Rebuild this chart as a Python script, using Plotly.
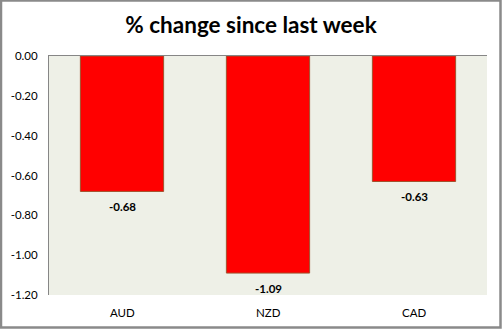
import plotly.graph_objects as go

currencies = ["AUD", "NZD", "CAD"]
weekly_change = [-0.68, -1.09, -0.63]
y_ticks = [0.0, -0.2, -0.4, -0.6, -0.8, -1.0, -1.2]
y_tick_labels = ["0.00", "-0.20", "-0.40", "-0.60", "-0.80", "-1.00", "-1.20"]

W, H = 502, 329
ML, MR, MT, MB = 49, 15, 56, 34
FONT = "Lato, Arial, sans-serif"

fig = go.Figure()
fig.add_trace(go.Bar(
    x=currencies,
    y=weekly_change,
    width=0.57,
    marker=dict(color="#FF0000", line=dict(color="#A0522D", width=1)),
    hoverinfo="x+y",
))

# value labels a little below the end of each bar
for name, v in zip(currencies, weekly_change):
    fig.add_annotation(
        x=name, y=v, xref="x", yref="y", yshift=-15,
        text=f"<b>{v:.2f}</b>", showarrow=False,
        font=dict(family=FONT, size=11.5, color="#000000"),
    )

fig.update_layout(
    width=W, height=H,
    margin=dict(l=ML, r=MR, t=MT, b=MB),
    paper_bgcolor="#FFFFFF",
    plot_bgcolor="#EEF0E7",
    showlegend=False,
    title=dict(
        text="<b>% change since last week</b>",
        x=0.5, xanchor="center", y=1 - 25 / H, yanchor="middle",
        font=dict(family=FONT, size=22.5, color="#000000"),
    ),
    xaxis=dict(
        side="top",
        showline=True, linecolor="#868686", linewidth=1,
        showticklabels=False, ticks="",
        showgrid=False, zeroline=False,
        range=[-0.5, 2.5],
    ),
    yaxis=dict(
        range=[-1.2, 0],
        tickvals=y_ticks, ticktext=y_tick_labels,
        showline=True, linecolor="#868686", linewidth=1,
        ticks="", showgrid=False, zeroline=False,
        ticklabelstandoff=8,
        tickfont=dict(family=FONT, size=11.5, color="#000000"),
    ),
)

# category names along the bottom, below the plot area
for name in currencies:
    fig.add_annotation(
        x=name, y=0, xref="x", yref="paper", yanchor="middle", yshift=-17,
        text=name, showarrow=False,
        font=dict(family=FONT, size=11.5, color="#000000"),
    )

# outer frame around the whole chart
pw = W - ML - MR
ph = H - MT - MB
fig.add_shape(
    type="rect", xref="paper", yref="paper",
    x0=(-ML + 1) / pw, x1=(W - ML - 1.5) / pw,
    y0=(-MB + 1.5) / ph, y1=(H - MB - 0.5) / ph,
    line=dict(color="#8A8A8A", width=2.5),
    fillcolor="rgba(0,0,0,0)", layer="below",
)

fig.write_html("out.html")
